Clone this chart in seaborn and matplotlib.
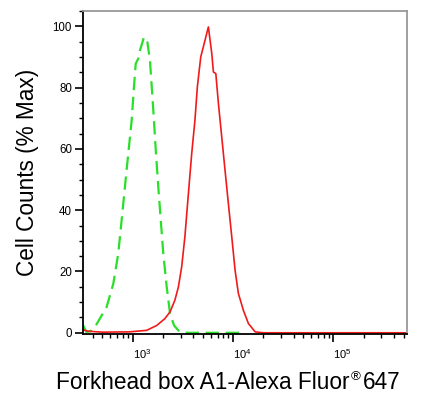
import numpy as np
import pandas as pd
import seaborn as sns
import matplotlib.pyplot as plt
from matplotlib.ticker import MultipleLocator, FuncFormatter

# control (isotype) histogram, green dashed
green_x = [320, 345, 380, 421, 550, 641, 718, 776, 837, 904, 977, 1030, 1072,
           1138, 1183, 1297, 1400, 1486, 1549, 1629, 1706, 1799, 1905, 2018,
           2183, 2355, 2582, 2900, 3500, 12000]
green_y = [2.5, 0.3, 0.5, 1.9, 8.4, 16, 25.8, 36.7, 47.6, 58.5, 69.3, 80.2, 87.8,
           89.5, 92.2, 96.5, 94.9, 88.9, 80.2, 69.3, 58.5, 47.6, 36.7, 25.8,
           14.9, 6.3, 2.4, 0.5, 0, 0]

# Forkhead box A1 stained cells, red solid
red_x = [320, 360, 500, 933, 1380, 1738, 2089, 2355, 2630, 2851, 3076, 3311,
         3589, 3873, 4169, 4406, 4764, 5248, 5675, 6138, 6368, 6730, 7145, 7709,
         8318, 8974, 9705, 10471, 11298, 12677, 14223, 16596, 20000, 540000]
red_y = [1.0, 0.5, 0.2, 0.3, 0.8, 2.4, 4.6, 6.8, 10.6, 14.9, 21.5, 31.3,
         45.4, 58.5, 69.3, 80.2, 90, 95.4, 99.8, 91.1, 85.1, 84.6, 74.8, 63.9,
         53, 42.2, 31.3, 20.4, 12.8, 7.3, 3, 0.3, 0, 0]

xlabel_main = "Forkhead box A1-Alexa Fluor"
xlabel_mark = "\u00ae"
xlabel_tail = "647"
ylabel = "Cell Counts (% Max)"

green = pd.DataFrame({"x": green_x, "y": green_y})
red = pd.DataFrame({"x": red_x, "y": red_y})

sns.set_style("ticks")
plt.rcParams["font.family"] = ["Liberation Sans", "DejaVu Sans"]
plt.rcParams["mathtext.fontset"] = "custom"
plt.rcParams["mathtext.rm"] = "Liberation Sans"
for k in ["text.color", "axes.labelcolor", "xtick.color", "ytick.color"]:
    plt.rcParams[k] = "black"

W, H = 437, 403
fig = plt.figure(figsize=(W / 100, H / 100), dpi=100)
ax = fig.add_axes([83 / W, 1 - 334 / H, 324 / W, 323 / H])

sns.lineplot(data=green, x="x", y="y", ax=ax, color="#2adf2a", lw=1.6,
             sort=False, estimator=None)
ax.lines[-1].set_dashes((6, 3))
sns.lineplot(data=red, x="x", y="y", ax=ax, color="#f01a1a", lw=1.2,
             sort=False, estimator=None)

ax.set_xscale("log")
ax.set_xlim(320, 540000)
ax.set_ylim(-0.4, 105)
ax.yaxis.set_major_locator(MultipleLocator(20))
ax.yaxis.set_minor_locator(MultipleLocator(5))
ax.xaxis.set_major_formatter(FuncFormatter(
    lambda v, p: r"$\mathregular{10^{%d}}$" % round(np.log10(v))))

ax.tick_params(axis="both", which="major", length=5.5, width=1.2,
               direction="out", pad=2.5)
ax.tick_params(axis="y", which="major", labelsize=8.3)
ax.tick_params(axis="x", which="major", labelsize=8, pad=4)
ax.tick_params(axis="both", which="minor", length=2.8, width=1.0,
               direction="out")
for lab in ax.get_xticklabels():
    lab.set_horizontalalignment("left")

for s in ["left", "bottom"]:
    ax.spines[s].set_color("black")
    ax.spines[s].set_linewidth(1.3)
for s in ["top", "right"]:
    ax.spines[s].set_color("#999999")
    ax.spines[s].set_linewidth(1.3)

ax.set_xlabel("")
ax.set_ylabel(ylabel, fontsize=16.3, labelpad=10)

# x label with a small raised registered mark
fig.canvas.draw()
r = fig.canvas.get_renderer()
t1 = fig.text(56 / W, 1 - 389 / H, xlabel_main, fontsize=16.3,
              ha="left", va="baseline")
x_end = t1.get_window_extent(r).x1
t2 = fig.text((x_end + 1) / W, 1 - 380 / H, xlabel_mark, fontsize=9.5,
              ha="left", va="baseline")
x_end = t2.get_window_extent(r).x1
fig.text((x_end + 3) / W, 1 - 389 / H, xlabel_tail, fontsize=16.3,
         ha="left", va="baseline")

fig.savefig("out.png", dpi=100)
